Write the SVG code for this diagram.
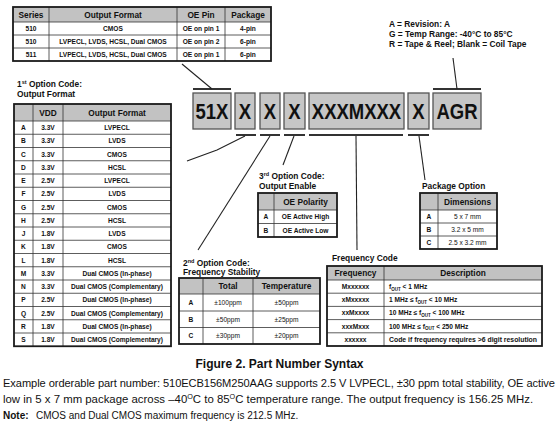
<svg xmlns="http://www.w3.org/2000/svg" width="560" height="428" viewBox="0 0 560 428">
<style>
text { font-family: "Liberation Sans", Arial, sans-serif; fill: #111; }
.hd { font-size: 8.3px; font-weight: bold; text-anchor: middle; }
.cell { font-size: 6.6px; font-weight: bold; text-anchor: middle; }
.celln { font-size: 6.6px; text-anchor: middle; }
.celll { font-size: 6.6px; font-weight: bold; }
.lbl { font-size: 8.4px; font-weight: bold; }
.box { fill: #c6c6c6; stroke: #555; stroke-width: 1.3; }
.boxt { font-size: 18.5px; font-weight: bold; text-anchor: middle; fill: #111; }
.bar { stroke: #333; stroke-width: 2; }
.conn { stroke: #222; stroke-width: 1.1; fill: none; }
.outer { fill: none; stroke: #1a1a1a; stroke-width: 1.8; }
.grid { stroke: #333; stroke-width: 0.8; }
.hfill { fill: #c2c2c2; }
.body { fill: #fff; }
</style>
<rect width="560" height="428" fill="#fff"/>

<!-- Series table -->
<g id="series-table">
  <rect class="body" x="13" y="7" width="258" height="54"/>
  <rect class="hfill" x="13" y="7" width="258" height="15"/>
  <line class="grid" x1="13" y1="22" x2="271" y2="22"/>
  <line class="grid" x1="13" y1="35" x2="271" y2="35"/>
  <line class="grid" x1="13" y1="48" x2="271" y2="48"/>
  <line class="grid" x1="49" y1="7" x2="49" y2="61"/>
  <line class="grid" x1="177" y1="7" x2="177" y2="61"/>
  <line class="grid" x1="225" y1="7" x2="225" y2="61"/>
  <rect class="outer" x="13" y="7" width="258" height="54"/>
  <text class="hd" x="31" y="17.5">Series</text>
  <text class="hd" x="113" y="17.5">Output Format</text>
  <text class="hd" x="201" y="17.5">OE Pin</text>
  <text class="hd" x="248" y="17.5">Package</text>
  <text class="cell" x="31" y="31">510</text>
  <text class="cell" x="113" y="31">CMOS</text>
  <text class="cell" x="201" y="31">OE on pin 1</text>
  <text class="cell" x="248" y="31">4-pin</text>
  <text class="cell" x="31" y="44">510</text>
  <text class="cell" x="113" y="44">LVPECL, LVDS, HCSL, Dual CMOS</text>
  <text class="cell" x="201" y="44">OE on pin 2</text>
  <text class="cell" x="248" y="44">6-pin</text>
  <text class="cell" x="31" y="57">511</text>
  <text class="cell" x="113" y="57">LVPECL, LVDS, HCSL, Dual CMOS</text>
  <text class="cell" x="201" y="57">OE on pin 1</text>
  <text class="cell" x="248" y="57">6-pin</text>
</g>

<!-- Suffix legend -->
<g id="suffix-legend">
  <text class="lbl" x="389" y="26.5">A = Revision: A</text>
  <text class="lbl" x="389" y="36.5">G = Temp Range: -40°C to 85°C</text>
  <text class="lbl" x="389" y="46.5">R = Tape &amp; Reel; Blank = Coil Tape</text>
</g>

<!-- Part number boxes -->
<g id="pn-51X">
  <line class="bar" x1="193" y1="89" x2="231" y2="89"/>
  <rect class="box" x="193" y="93" width="38" height="36"/>
  <text class="boxt" transform="translate(212,119) scale(1,1.18)">51X</text>
</g>
<g id="pn-X1">
  <rect class="box" x="235" y="93" width="20" height="36"/>
  <text class="boxt" transform="translate(245,119) scale(1,1.18)">X</text>
  <line class="bar" x1="236" y1="135" x2="256" y2="135"/>
</g>
<g id="pn-X2">
  <rect class="box" x="260" y="93" width="20" height="36"/>
  <text class="boxt" transform="translate(270,119) scale(1,1.18)">X</text>
  <line class="bar" x1="260" y1="135" x2="280" y2="135"/>
</g>
<g id="pn-X3">
  <rect class="box" x="284" y="93" width="21" height="36"/>
  <text class="boxt" transform="translate(294.5,119) scale(1,1.18)">X</text>
  <line class="bar" x1="284" y1="135" x2="305" y2="135"/>
</g>
<g id="pn-freq">
  <rect class="box" x="309" y="93" width="95" height="36"/>
  <text class="boxt" transform="translate(356.5,119) scale(1,1.18)">XXXMXXX</text>
  <line class="bar" x1="309" y1="135" x2="403" y2="135"/>
</g>
<g id="pn-X4">
  <rect class="box" x="408" y="93" width="21" height="36"/>
  <text class="boxt" transform="translate(418.5,119) scale(1,1.18)">X</text>
  <line class="bar" x1="408" y1="135" x2="429" y2="135"/>
</g>
<g id="pn-AGR">
  <line class="bar" x1="433" y1="89" x2="481" y2="89"/>
  <rect class="box" x="433" y="93" width="48" height="36"/>
  <text class="boxt" transform="translate(457,119) scale(1,1.18)">AGR</text>
</g>

<!-- Connectors -->
<g id="connectors">
  <line class="conn" x1="182" y1="64" x2="212" y2="89"/>
  <polyline class="conn" points="245,136 217,150 187,161"/>
  <line class="conn" x1="270" y1="136" x2="198" y2="250"/>
  <line class="conn" x1="294" y1="136" x2="283" y2="165"/>
  <line class="conn" x1="356" y1="136" x2="357" y2="250"/>
  <line class="conn" x1="419" y1="136" x2="425" y2="180"/>
  <line class="conn" x1="457" y1="89" x2="453" y2="58"/>
</g>

<!-- 1st option code -->
<g id="opt1">
  <text class="lbl" x="17" y="87">1<tspan font-size="5.5" dy="-3">st</tspan><tspan dy="3"> Option Code:</tspan></text>
  <text class="lbl" x="17" y="97">Output Format</text>
  <rect class="body" x="14" y="104" width="157" height="242.25"/>
  <rect class="hfill" x="14" y="104" width="157" height="17"/>
  <g class="grid">
    <line x1="14" y1="121" x2="171" y2="121"/>
    <line x1="14" y1="134.25" x2="171" y2="134.25"/>
    <line x1="14" y1="147.5" x2="171" y2="147.5"/>
    <line x1="14" y1="160.75" x2="171" y2="160.75"/>
    <line x1="14" y1="174" x2="171" y2="174"/>
    <line x1="14" y1="187.25" x2="171" y2="187.25"/>
    <line x1="14" y1="200.5" x2="171" y2="200.5"/>
    <line x1="14" y1="213.75" x2="171" y2="213.75"/>
    <line x1="14" y1="227" x2="171" y2="227"/>
    <line x1="14" y1="240.25" x2="171" y2="240.25"/>
    <line x1="14" y1="253.5" x2="171" y2="253.5"/>
    <line x1="14" y1="266.75" x2="171" y2="266.75"/>
    <line x1="14" y1="280" x2="171" y2="280"/>
    <line x1="14" y1="293.25" x2="171" y2="293.25"/>
    <line x1="14" y1="306.5" x2="171" y2="306.5"/>
    <line x1="14" y1="319.75" x2="171" y2="319.75"/>
    <line x1="14" y1="333" x2="171" y2="333"/>
    <line x1="33" y1="104" x2="33" y2="346.25"/>
    <line x1="63" y1="104" x2="63" y2="346.25"/>
  </g>
  <rect class="outer" x="14" y="104" width="157" height="242.25"/>
  <text class="hd" x="48" y="115.5">VDD</text>
  <text class="hd" x="117" y="115.5">Output Format</text>
  <g class="cell">
    <text class="cell" x="23.5" y="130">A</text><text class="cell" x="48" y="130">3.3V</text><text class="cell" x="117" y="130">LVPECL</text>
    <text class="cell" x="23.5" y="143.3">B</text><text class="cell" x="48" y="143.3">3.3V</text><text class="cell" x="117" y="143.3">LVDS</text>
    <text class="cell" x="23.5" y="156.5">C</text><text class="cell" x="48" y="156.5">3.3V</text><text class="cell" x="117" y="156.5">CMOS</text>
    <text class="cell" x="23.5" y="169.8">D</text><text class="cell" x="48" y="169.8">3.3V</text><text class="cell" x="117" y="169.8">HCSL</text>
    <text class="cell" x="23.5" y="183">E</text><text class="cell" x="48" y="183">2.5V</text><text class="cell" x="117" y="183">LVPECL</text>
    <text class="cell" x="23.5" y="196.3">F</text><text class="cell" x="48" y="196.3">2.5V</text><text class="cell" x="117" y="196.3">LVDS</text>
    <text class="cell" x="23.5" y="209.5">G</text><text class="cell" x="48" y="209.5">2.5V</text><text class="cell" x="117" y="209.5">CMOS</text>
    <text class="cell" x="23.5" y="222.8">H</text><text class="cell" x="48" y="222.8">2.5V</text><text class="cell" x="117" y="222.8">HCSL</text>
    <text class="cell" x="23.5" y="236">J</text><text class="cell" x="48" y="236">1.8V</text><text class="cell" x="117" y="236">LVDS</text>
    <text class="cell" x="23.5" y="249.3">K</text><text class="cell" x="48" y="249.3">1.8V</text><text class="cell" x="117" y="249.3">CMOS</text>
    <text class="cell" x="23.5" y="262.5">L</text><text class="cell" x="48" y="262.5">1.8V</text><text class="cell" x="117" y="262.5">HCSL</text>
    <text class="cell" x="23.5" y="275.8">M</text><text class="cell" x="48" y="275.8">3.3V</text><text class="cell" x="117" y="275.8">Dual CMOS (In-phase)</text>
    <text class="cell" x="23.5" y="289">N</text><text class="cell" x="48" y="289">3.3V</text><text class="cell" x="117" y="289">Dual CMOS (Complementary)</text>
    <text class="cell" x="23.5" y="302.3">P</text><text class="cell" x="48" y="302.3">2.5V</text><text class="cell" x="117" y="302.3">Dual CMOS (In-phase)</text>
    <text class="cell" x="23.5" y="315.5">Q</text><text class="cell" x="48" y="315.5">2.5V</text><text class="cell" x="117" y="315.5">Dual CMOS (Complementary)</text>
    <text class="cell" x="23.5" y="328.8">R</text><text class="cell" x="48" y="328.8">1.8V</text><text class="cell" x="117" y="328.8">Dual CMOS (In-phase)</text>
    <text class="cell" x="23.5" y="342">S</text><text class="cell" x="48" y="342">1.8V</text><text class="cell" x="117" y="342">Dual CMOS (Complementary)</text>
  </g>
</g>

<!-- 3rd option code -->
<g id="opt3">
  <text class="lbl" x="259" y="179">3<tspan font-size="5.5" dy="-3">rd</tspan><tspan dy="3"> Option Code:</tspan></text>
  <text class="lbl" x="259" y="189">Output Enable</text>
  <rect class="body" x="258" y="193" width="79" height="44"/>
  <rect class="hfill" x="258" y="193" width="79" height="17"/>
  <g class="grid">
    <line x1="258" y1="210" x2="337" y2="210"/>
    <line x1="258" y1="223.5" x2="337" y2="223.5"/>
    <line x1="274" y1="193" x2="274" y2="237"/>
  </g>
  <rect class="outer" x="258" y="193" width="79" height="44"/>
  <text class="hd" x="305.5" y="204.5">OE Polarity</text>
  <text class="cell" x="266" y="219">A</text><text class="cell" x="305.5" y="219">OE Active High</text>
  <text class="cell" x="266" y="232.5">B</text><text class="cell" x="305.5" y="232.5">OE Active Low</text>
</g>

<!-- Package option -->
<g id="package">
  <text class="lbl" x="422" y="188.5">Package Option</text>
  <rect class="body" x="420" y="193" width="77" height="56"/>
  <rect class="hfill" x="420" y="193" width="77" height="17"/>
  <g class="grid">
    <line x1="420" y1="210" x2="497" y2="210"/>
    <line x1="420" y1="223" x2="497" y2="223"/>
    <line x1="420" y1="236" x2="497" y2="236"/>
    <line x1="438" y1="193" x2="438" y2="249"/>
  </g>
  <rect class="outer" x="420" y="193" width="77" height="56"/>
  <text class="hd" x="467.5" y="204.5">Dimensions</text>
  <text class="cell" x="429" y="218.9">A</text><text class="celln" x="467.5" y="218.9">5 x 7 mm</text>
  <text class="cell" x="429" y="231.9">B</text><text class="celln" x="467.5" y="231.9">3.2 x 5 mm</text>
  <text class="cell" x="429" y="244.9">C</text><text class="celln" x="467.5" y="244.9">2.5 x 3.2 mm</text>
</g>

<!-- 2nd option code -->
<g id="opt2">
  <text class="lbl" x="183" y="265.5">2<tspan font-size="5.5" dy="-3">nd</tspan><tspan dy="3"> Option Code:</tspan></text>
  <text class="lbl" x="183" y="275">Frequency Stability</text>
  <rect class="body" x="179" y="278" width="141" height="66"/>
  <rect class="hfill" x="179" y="278" width="141" height="16"/>
  <g class="grid">
    <line x1="179" y1="294" x2="320" y2="294"/>
    <line x1="179" y1="311" x2="320" y2="311"/>
    <line x1="179" y1="327.5" x2="320" y2="327.5"/>
    <line x1="203" y1="278" x2="203" y2="344"/>
    <line x1="253" y1="278" x2="253" y2="344"/>
  </g>
  <rect class="outer" x="179" y="278" width="141" height="66"/>
  <text class="hd" x="228" y="289">Total</text>
  <text class="hd" x="286.5" y="289">Temperature</text>
  <text class="cell" x="191" y="304.8">A</text><text class="celln" x="228" y="304.8">±100ppm</text><text class="celln" x="286.5" y="304.8">±50ppm</text>
  <text class="cell" x="191" y="321.5">B</text><text class="celln" x="228" y="321.5">±50ppm</text><text class="celln" x="286.5" y="321.5">±25ppm</text>
  <text class="cell" x="191" y="338">C</text><text class="celln" x="228" y="338">±30ppm</text><text class="celln" x="286.5" y="338">±20ppm</text>
</g>

<!-- Frequency code -->
<g id="freq">
  <text class="lbl" x="332" y="260.5">Frequency Code</text>
  <rect class="body" x="327" y="266" width="215" height="80"/>
  <rect class="hfill" x="327" y="266" width="215" height="14"/>
  <g class="grid">
    <line x1="327" y1="280" x2="542" y2="280"/>
    <line x1="327" y1="293.2" x2="542" y2="293.2"/>
    <line x1="327" y1="306.4" x2="542" y2="306.4"/>
    <line x1="327" y1="319.6" x2="542" y2="319.6"/>
    <line x1="327" y1="332.8" x2="542" y2="332.8"/>
    <line x1="384" y1="266" x2="384" y2="346"/>
  </g>
  <rect class="outer" x="327" y="266" width="215" height="80"/>
  <text class="hd" x="355.5" y="276">Frequency</text>
  <text class="hd" x="463" y="276">Description</text>
  <text class="cell" x="355.5" y="289">Mxxxxxx</text>
  <text class="celll" x="389" y="289">f<tspan font-size="4.5" dy="1.5">OUT</tspan><tspan dy="-1.5"> &lt; 1 MHz</tspan></text>
  <text class="cell" x="355.5" y="302.2">xMxxxxx</text>
  <text class="celll" x="389" y="302.2">1 MHz  ≤ f<tspan font-size="4.5" dy="1.5">OUT</tspan><tspan dy="-1.5"> &lt; 10 MHz</tspan></text>
  <text class="cell" x="355.5" y="315.4">xxMxxxx</text>
  <text class="celll" x="389" y="315.4">10 MHz  ≤ f<tspan font-size="4.5" dy="1.5">OUT</tspan><tspan dy="-1.5"> &lt; 100 MHz</tspan></text>
  <text class="cell" x="355.5" y="328.6">xxxMxxx</text>
  <text class="celll" x="389" y="328.6">100 MHz  ≤ f<tspan font-size="4.5" dy="1.5">OUT</tspan><tspan dy="-1.5"> &lt; 250 MHz</tspan></text>
  <text class="cell" x="355.5" y="341.8">xxxxxx</text>
  <text class="celll" x="389" y="341.8" textLength="148" lengthAdjust="spacingAndGlyphs">Code if frequency requires &gt;6 digit resolution</text>
</g>

<!-- Caption -->
<g id="caption">
  <text x="279.5" y="368" font-size="12" font-weight="bold" text-anchor="middle">Figure 2. Part Number Syntax</text>
  <text x="3" y="387" font-size="11.1" textLength="552" lengthAdjust="spacing">Example orderable part number: 510ECB156M250AAG supports 2.5 V LVPECL, ±30 ppm total stability, OE active</text>
  <text x="3" y="402.5" font-size="11.4">low in 5 x 7 mm package across –40<tspan font-size="7.2" dy="-4">O</tspan><tspan dy="4">C to 85</tspan><tspan font-size="7.2" dy="-4">O</tspan><tspan dy="4">C temperature range. The output frequency is 156.25 MHz.</tspan></text>
  <text x="3" y="418.5" font-size="10"><tspan font-weight="bold">Note:</tspan><tspan x="36">CMOS and Dual CMOS maximum frequency is 212.5 MHz.</tspan></text>
</g>
</svg>
